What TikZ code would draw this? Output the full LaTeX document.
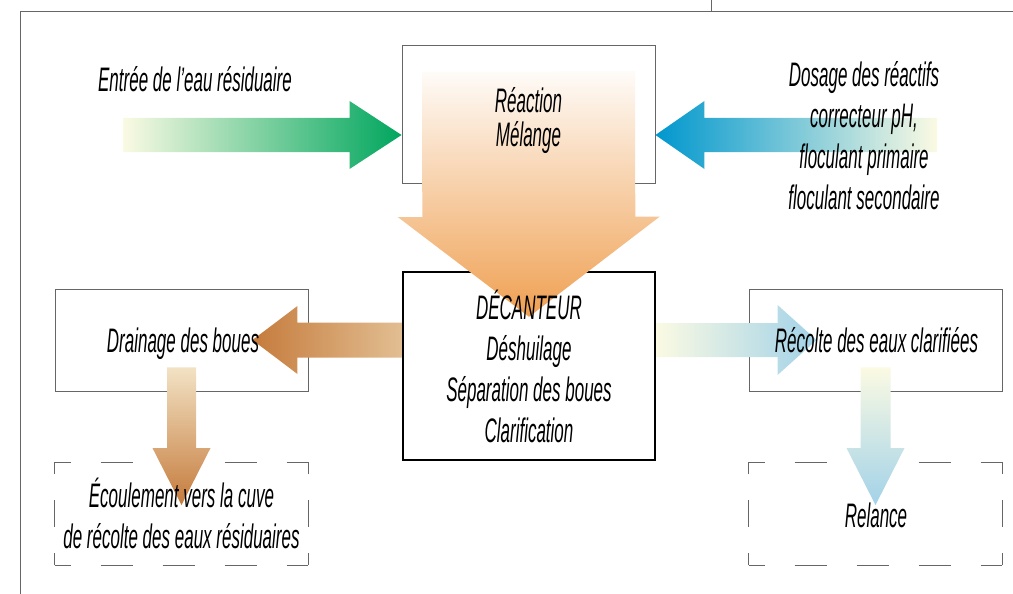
\documentclass[tikz,border=0pt]{standalone}
\usepackage{xcolor}
\usepackage{fontspec}
\setmainfont{Liberation Sans}[FakeStretch=0.5]
\usepackage{tikz}
\usetikzlibrary{calc}

\definecolor{framegray}{HTML}{666666}
\definecolor{paleyellow}{HTML}{FBFAE3}
\definecolor{inflowgreen}{HTML}{00A65E}
\definecolor{dosingblue}{HTML}{0097CE}
\definecolor{mixorange}{HTML}{EFA052}
\definecolor{sludgebrown}{HTML}{C57B3C}
\definecolor{sludgetan}{HTML}{E2BE92}
\definecolor{sludgecream}{HTML}{F2E2C4}
\definecolor{clearblue}{HTML}{A2D2E8}

% shaded block arrow: [shading]{from}{to}{shaft half}{head half}{head length}
\newcommand{\fatarrow}[6][]{%
  \shade[#1] let \p1=(#2), \p2=(#3),
      \n1={atan2(\y2-\y1,\x2-\x1)}, \n2={veclen(\x2-\x1,\y2-\y1)} in
    [shift={(\p1)}, rotate=\n1]
    (0pt,-#4pt) -- ({\n2-#6pt},-#4pt) -- ({\n2-#6pt},-#5pt) -- ({\n2+0pt},0pt)
    -- ({\n2-#6pt},#5pt) -- ({\n2-#6pt},#4pt) -- (0pt,#4pt) -- cycle;
}

\begin{document}
\begin{tikzpicture}[
    x=1pt, y=-1pt,
    stage/.style={rectangle, draw=framegray, line width=0.9pt, minimum width=253pt, minimum height=102pt, inner sep=0pt},
    tank/.style={rectangle, draw=black, line width=2.4pt, minimum width=252pt, minimum height=188pt, inner sep=0pt},
    outlet/.style={stage, draw=none},
    hdash/.style={framegray, line width=0.9pt, dash pattern=on 32pt off 30pt, dash phase=16pt},
    vdash/.style={framegray, line width=0.9pt, dash pattern=on 27pt off 26pt, dash phase=15pt},
    txt/.style={font=\itshape\fontsize{34}{41}\selectfont, align=center, inner sep=0pt}
]
\useasboundingbox (0,0) rectangle (1013,594);

% Frame
\draw[framegray, line width=1pt] (20,594) -- (20,12) -- (1013,12);
\draw[framegray, line width=1pt] (711,0) -- (711,12);

% Boxes
\node[stage, minimum height=138pt] (reaction) at (528.5,114) {};
\node[tank] (decanteur) at (529,366) {};
\node[stage] (drainage) at (181.5,340) {};
\node[stage] (recolte) at (875.5,340) {};
\node[outlet] (ecoulement) at (181.5,513.5) {};
\node[outlet] (relance) at (875.5,513.5) {};
\foreach \b in {ecoulement, relance} {
    \draw[hdash] (\b.north west) -- (\b.north east) (\b.south west) -- (\b.south east);
    \draw[vdash] (\b.north west) -- (\b.south west) (\b.north east) -- (\b.south east);
}

% Arrow ends
\coordinate (inlet) at (123,135);
\coordinate (dosein) at (937,135);
\coordinate (mixtop) at ($(reaction.north)+(0,27)$);
\coordinate (mixtip) at ($(decanteur.north)+(0,46)$);
\coordinate (sludgeout) at (decanteur.west |- drainage);
\coordinate (sludgetip) at ($(drainage.east)+(-56,0)$);
\coordinate (draintop) at ($(drainage.south)+(0,-24)$);
\coordinate (draintip) at ($(ecoulement.north)+(0,43)$);
\coordinate (clearout) at (decanteur.east |- recolte);
\coordinate (cleartip) at ($(recolte.west)+(68,0)$);
\coordinate (relancetop) at ($(recolte.south)+(0,-24)$);
\coordinate (relancetip) at ($(relance.north)+(0,43)$);

% Arrows
\fatarrow[left color=paleyellow, right color=inflowgreen]{inlet}{reaction.west |- inlet}{17}{34}{52}
\fatarrow[left color=dosingblue, right color=paleyellow]{dosein}{reaction.east |- dosein}{17}{34}{49}
\fatarrow[top color=white!96!mixorange, bottom color=mixorange]{mixtop}{mixtip}{106.5}{131}{100}
\fatarrow[left color=sludgebrown, right color=sludgetan]{sludgeout}{sludgetip}{17.5}{34}{45}
\fatarrow[top color=sludgecream, bottom color=sludgebrown]{draintop}{draintip}{14.5}{29}{57}
\fatarrow[left color=paleyellow, right color=clearblue]{clearout}{cleartip}{17}{35}{39}
\fatarrow[top color=paleyellow, bottom color=clearblue]{relancetop}{relancetip}{15}{29}{57}

% Labels
\node[txt, anchor=base] (entree-txt) at (195,92) {Entrée de l’eau résiduaire};
\node[txt, font=\itshape\fontsize{34}{34}\selectfont] (reaction-txt) at ($(reaction)+(0,7)$) {Réaction\\Mélange};
\node[txt] (dosage-txt) at (864,136) {Dosage des réactifs\\correcteur pH,\\floculant primaire\\floculant secondaire};
\node[txt] (decanteur-txt) at (decanteur) {DÉCANTEUR\\Déshuilage\\Séparation des boues\\Clarification};
\node[txt, anchor=base] (drainage-txt) at (183,352) {Drainage des boues};
\node[txt, anchor=base] (recolte-txt) at (876.5,352) {Récolte des eaux clarifiées};
\node[txt] (ecoulement-txt) at (ecoulement) {Écoulement vers la cuve\\de récolte des eaux résiduaires};
\node[txt, anchor=base] (relance-txt) at (876,527) {Relance};

\end{tikzpicture}
\end{document}
